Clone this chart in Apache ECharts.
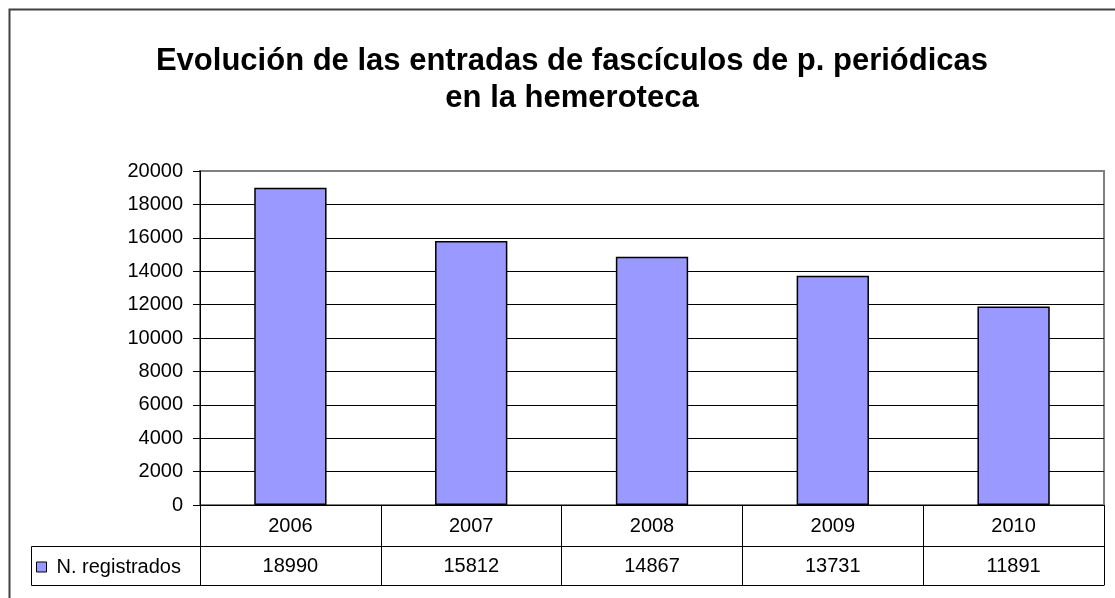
<!DOCTYPE html>
<html>
<head>
<meta charset="utf-8">
<script src="https://cdn.jsdelivr.net/npm/echarts@6/dist/echarts.min.js"></script>
<style>
  html, body { margin: 0; padding: 0; background: #fff; }
  #chart { width: 1115px; height: 598px; }
</style>
</head>
<body>
<div id="chart"></div>
<script>
  const years = ['2006', '2007', '2008', '2009', '2010']
  const registrados = [18990, 15812, 14867, 13731, 11891]
  const seriesName = 'N. registrados'

  const font = 'Liberation Sans, Arial, sans-serif'
  const chart = echarts.init(document.getElementById('chart'))

  chart.setOption({
    backgroundColor: '#ffffff',
    animation: false,
    title: {
      text: 'Evolución de las entradas de fascículos de p. periódicas\nen la hemeroteca',
      left: 567,
      textAlign: 'center',
      top: 38,
      textStyle: {
        fontFamily: font,
        fontSize: 31,
        fontWeight: 'bold',
        color: '#000',
        lineHeight: 37
      }
    },
    legend: {
      show: true,
      left: 31,
      top: 552,
      itemWidth: 10,
      itemHeight: 10,
      itemGap: 5,
      data: [{ name: seriesName, icon: 'rect' }],
      itemStyle: { color: '#9999ff', borderColor: '#000', borderWidth: 1 },
      textStyle: { fontFamily: font, fontSize: 20, color: '#000', padding: [0, 0, 0, 5] }
    },
    grid: {
      left: 200,
      right: 11,
      top: 171,
      bottom: 93,
      show: true,
      borderColor: '#808080',
      borderWidth: 2
    },
    xAxis: [{
      type: 'category',
      data: years,
      axisLine: { lineStyle: { color: '#000', width: 1 } },
      axisTick: { show: true, length: 80, lineStyle: { color: '#000' } },
      axisLabel: { color: '#000', fontFamily: font, fontSize: 20, margin: 11 },
      splitLine: { show: false }
    }, {
      type: 'category',
      position: 'bottom',
      offset: 41,
      data: registrados.map(String),
      axisLine: { lineStyle: { color: '#000', width: 1 } },
      axisTick: { show: false },
      axisLabel: { color: '#000', fontFamily: font, fontSize: 20, margin: 10 }
    }, {
      type: 'category',
      position: 'bottom',
      offset: 80,
      data: years,
      axisLine: { lineStyle: { color: '#000', width: 1 } },
      axisTick: { show: false },
      axisLabel: { show: false }
    }],
    yAxis: {
      type: 'value',
      min: 0,
      max: 20000,
      interval: 2000,
      axisLine: { show: true, lineStyle: { color: '#000' } },
      axisTick: { show: true, length: 7, lineStyle: { color: '#000' } },
      axisLabel: {
        color: '#000',
        fontFamily: font,
        fontSize: 20,
        margin: 17,
        formatter: function (v) { return String(v) }
      },
      splitLine: { show: true, showMaxLine: false, lineStyle: { color: '#000', width: 1 } }
    },
    graphic: [{
      type: 'rect',
      shape: { x: 9.5, y: 9.5, width: 1200, height: 700 },
      style: { fill: null, stroke: '#404040', lineWidth: 2 },
      silent: true
    }, {
      type: 'rect',
      shape: { x: 31.5, y: 546.5, width: 169, height: 39 },
      style: { fill: null, stroke: '#000', lineWidth: 1 },
      silent: true
    }],
    series: [{
      name: seriesName,
      type: 'bar',
      barWidth: '40%',
      data: registrados,
      itemStyle: {
        color: '#9999ff',
        borderColor: '#000',
        borderWidth: 1.5
      }
    }]
  })
</script>
</body>
</html>
